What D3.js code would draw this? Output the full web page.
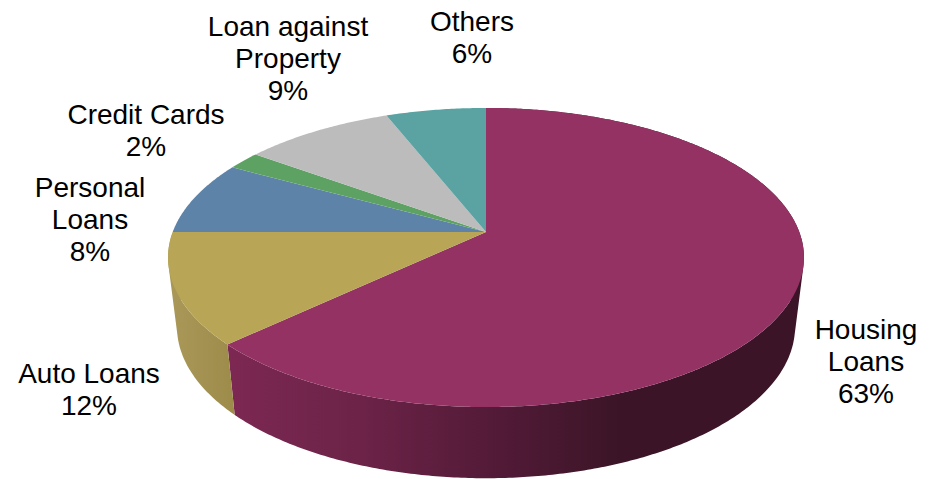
<!DOCTYPE html>
<html>
<head>
<meta charset="utf-8">
<script src="https://cdn.jsdelivr.net/npm/d3@7"></script>
<style>
  html, body { margin: 0; padding: 0; background: #fff; }
  svg { display: block; }
  text { font-family: "Liberation Sans", Arial, sans-serif; font-size: 28px; fill: #000; }
</style>
</head>
<body>
<svg id="chart" width="930" height="479"></svg>
<script>
// Loan portfolio shares, clockwise from twelve o'clock
const categories = ["Housing Loans", "Auto Loans", "Personal Loans", "Credit Cards", "Loan against Property", "Others"];
const shares = [63, 12, 8, 2, 9, 6];
const sliceColors = ["#953264", "#b8a556", "#5e83a9", "#5ea263", "#bcbcbc", "#5aa3a2"];

// Wrapped label lines and their centre / first-baseline anchors
const labelLines = [
  ["Housing", "Loans", "63%"],
  ["Auto Loans", "12%"],
  ["Personal", "Loans", "8%"],
  ["Credit Cards", "2%"],
  ["Loan against", "Property", "9%"],
  ["Others", "6%"]
];
const labelAnchors = [[866, 339], [89, 383], [90, 197], [146, 124], [288, 36], [472, 31]];

const svg = d3.select("#chart");
const slices = d3.pie().sort(null).value(d => d)(shares);

// Projective view of a disc: near edge bulges toward the viewer
const perspective = 0.1705;
const topDisc = { cx: 486, cy: 232, a: 313.3, b: 145.2 };
const baseDisc = { cx: 486, cy: 301, a: 304.5, b: 147 };

function project(disc, angle) {
  const u = Math.sin(angle), v = -Math.cos(angle);
  const w = 1 - perspective * v;
  return [disc.cx + disc.a * u / w, disc.cy + disc.b * v / w];
}

function arcPoints(disc, start, end) {
  const n = Math.max(2, Math.ceil((end - start) / 0.01));
  return d3.range(n + 1).map(i => project(disc, start + (end - start) * i / n));
}

const line = d3.line();

// Side wall shading runs horizontally across the page
const wallGradients = [
  { id: "wall-housing", stops: [[230, "#7c2853"], [360, "#6c2347"], [500, "#521a37"], [620, "#3b1527"], [810, "#3b1527"]] },
  { id: "wall-auto", stops: [[170, "#a99858"], [235, "#9c8b49"]] }
];
const defs = svg.append("defs");
wallGradients.forEach(g => {
  const x0 = g.stops[0][0], x1 = g.stops[g.stops.length - 1][0];
  defs.append("linearGradient")
    .attr("id", g.id)
    .attr("gradientUnits", "userSpaceOnUse")
    .attr("x1", x0).attr("x2", x1).attr("y1", 0).attr("y2", 0)
    .selectAll("stop")
    .data(g.stops)
    .join("stop")
    .attr("offset", d => (d[0] - x0) / (x1 - x0))
    .attr("stop-color", d => d[1]);
});

// Walls of the two slices facing the viewer, one compound path per slice.
// Every quad is wound the same way so overlaps at the silhouette stay filled.
wallGradients.forEach((g, idx) => {
  const s = slices[idx];
  const top = arcPoints(topDisc, s.startAngle, s.endAngle);
  const base = arcPoints(baseDisc, s.startAngle, s.endAngle);
  const d = top.slice(1).map((p, i) => {
    const quad = [top[i], p, base[i + 1], base[i]];
    if (d3.polygonArea(quad) < 0) quad.reverse();
    return line(quad) + "Z";
  }).join("");
  svg.append("path").attr("d", d).attr("fill", `url(#${g.id})`);
});

// Top face of each slice
svg.append("g").selectAll("path")
  .data(slices)
  .join("path")
  .attr("fill", (d, i) => sliceColors[i])
  .attr("d", d => line([[topDisc.cx, topDisc.cy], ...arcPoints(topDisc, d.startAngle, d.endAngle)]) + "Z");

// Category labels with percentages
const lineHeight = 32;
svg.append("g").selectAll("text")
  .data(labelLines)
  .join("text")
  .attr("text-anchor", "middle")
  .each(function (lines, i) {
    const [x, y] = labelAnchors[i];
    d3.select(this).selectAll("tspan")
      .data(lines)
      .join("tspan")
      .attr("x", x)
      .attr("y", (d, j) => y + j * lineHeight)
      .text(d => d);
  });
</script>
</body>
</html>
